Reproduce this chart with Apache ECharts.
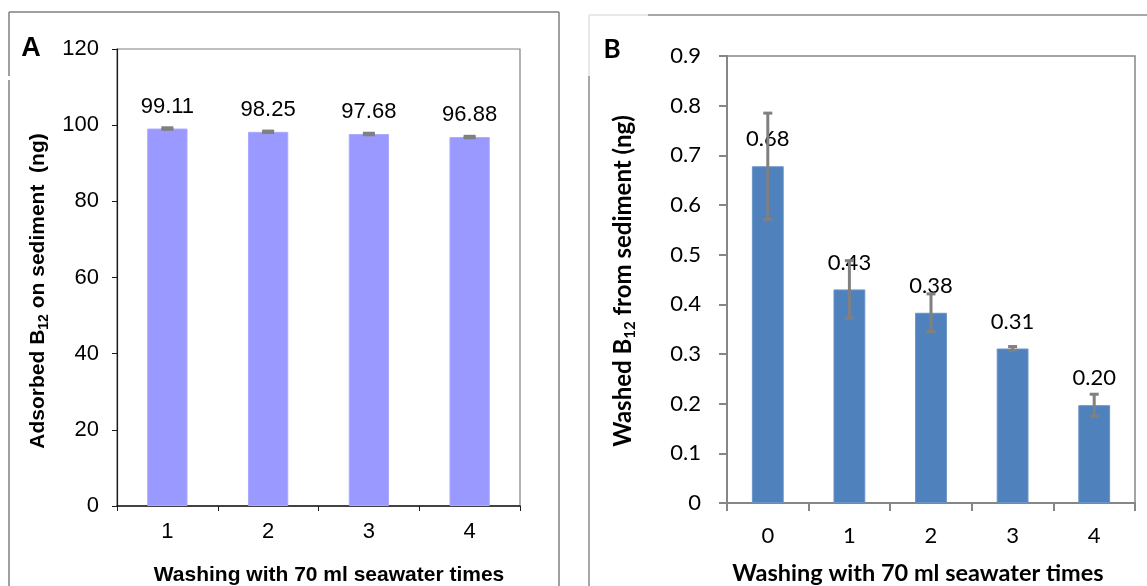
<!DOCTYPE html>
<html>
<head>
<meta charset="utf-8">
<script src="https://cdn.jsdelivr.net/npm/echarts@6/dist/echarts.min.js"></script>
<style>
html,body{margin:0;padding:0;background:#fff;}
#c{width:1147px;height:586px;}
</style>
</head>
<body>
<div id="c"></div>
<script>
// Panel A data
const catsA = ['1', '2', '3', '4'];
const meanA = [99.11, 98.25, 97.68, 96.88];
const errA = [0.2, 0.2, 0.2, 0.2];
const labelsA = ['99.11', '98.25', '97.68', '96.88'];
const yTicksA = { min: 0, max: 120, interval: 20 };

// Panel B data
const catsB = ['0', '1', '2', '3', '4'];
const meanB = [0.678, 0.430, 0.383, 0.311, 0.197];
const errB = [0.107, 0.058, 0.038, 0.004, 0.022];
const labelsB = ['0.68', '0.43', '0.38', '0.31', '0.20'];
const yTicksB = { min: 0, max: 0.9, interval: 0.1 };

const FA = 'Liberation Sans';
const FB = 'Lato';

function errItem(capW, capLw, stemLw) {
  return function (params, api) {
    const x = api.value(0), m = api.value(1), e = api.value(2);
    const t = api.coord([x, m + e]);
    const b = api.coord([x, m - e]);
    const hw = capW / 2;
    const st = { stroke: '#808080', lineWidth: stemLw };
    const ct = { stroke: '#808080', lineWidth: capLw };
    return {
      type: 'group',
      children: [
        { type: 'line', shape: { x1: t[0], y1: t[1], x2: b[0], y2: b[1] }, style: st },
        { type: 'line', shape: { x1: t[0] - hw, y1: t[1], x2: t[0] + hw, y2: t[1] }, style: ct },
        { type: 'line', shape: { x1: b[0] - hw, y1: b[1], x2: b[0] + hw, y2: b[1] }, style: ct }
      ]
    };
  };
}

const chart = echarts.init(document.getElementById('c'), null, { renderer: 'canvas' });

const option = {
  animation: false,
  backgroundColor: '#fff',
  grid: [
    { left: 117, top: 49, width: 403, height: 457, show: true, borderColor: '#808080', borderWidth: 1.2, containLabel: false },
    { left: 727, top: 56, width: 408, height: 447, show: true, borderColor: '#868686', borderWidth: 1.5, containLabel: false }
  ],
  xAxis: [
    {
      gridIndex: 0, type: 'category', data: catsA,
      axisLine: { lineStyle: { color: '#1a1a1a', width: 1.5 } },
      axisTick: { show: true, length: 5, lineStyle: { color: '#1a1a1a' } },
      axisLabel: { color: '#000', fontFamily: FA, fontSize: 22, margin: 15 },
      splitLine: { show: false }
    },
    {
      gridIndex: 1, type: 'category', data: catsB,
      axisLine: { lineStyle: { color: '#868686', width: 2 } },
      axisTick: { show: true, length: 8, lineStyle: { color: '#868686', width: 2 } },
      axisLabel: { color: '#000', fontFamily: FB, fontSize: 22, margin: 22 },
      splitLine: { show: false }
    }
  ],
  yAxis: [
    {
      gridIndex: 0, type: 'value', min: yTicksA.min, max: yTicksA.max, interval: yTicksA.interval,
      axisLine: { show: true, lineStyle: { color: '#1a1a1a', width: 1.2 } },
      axisTick: { show: true, length: 5, lineStyle: { color: '#1a1a1a' } },
      axisLabel: { color: '#000', fontFamily: FA, fontSize: 22, margin: 18 },
      splitLine: { show: false }
    },
    {
      gridIndex: 1, type: 'value', min: yTicksB.min, max: yTicksB.max, interval: yTicksB.interval,
      axisLine: { show: true, lineStyle: { color: '#868686', width: 2 } },
      axisTick: { show: true, length: 8, lineStyle: { color: '#868686', width: 2 } },
      axisLabel: {
        color: '#000', fontFamily: FB, fontSize: 22, margin: 26,
        formatter: function (v) { return v === 0 ? '0' : v.toFixed(1); }
      },
      splitLine: { show: false }
    }
  ],
  series: [
    {
      type: 'bar', xAxisIndex: 0, yAxisIndex: 0, data: meanA, barWidth: '40%', z: 2,
      itemStyle: { color: '#9999FF', borderColor: '#aaaaff', borderWidth: 1 },
      label: {
        show: true, position: 'top', distance: 11, color: '#000', fontFamily: FA, fontSize: 22,
        formatter: function (p) { return labelsA[p.dataIndex]; }
      }
    },
    {
      type: 'custom', xAxisIndex: 0, yAxisIndex: 0, z: 5,
      renderItem: errItem(12, 3, 3),
      data: catsA.map(function (c, i) { return [i, meanA[i], errA[i]]; })
    },
    {
      type: 'bar', xAxisIndex: 1, yAxisIndex: 1, data: meanB, barWidth: '39%', z: 2,
      itemStyle: { color: '#4F81BD', borderColor: '#6a93c6', borderWidth: 1 },
      label: {
        show: true, position: 'top', distance: 16, color: '#000', fontFamily: FB, fontSize: 22,
        formatter: function (p) { return labelsB[p.dataIndex]; }
      }
    },
    {
      type: 'custom', xAxisIndex: 1, yAxisIndex: 1, z: 5,
      renderItem: errItem(9, 3, 3),
      data: catsB.map(function (c, i) { return [i, meanB[i], errB[i]]; })
    }
  ],
  graphic: [
    // panel A frame
    { type: 'line', shape: { x1: 9, y1: 12, x2: 559, y2: 12 }, style: { stroke: '#7f7f7f', lineWidth: 1.5 }, silent: true },
    { type: 'line', shape: { x1: 9, y1: 12, x2: 9, y2: 76 }, style: { stroke: '#7f7f7f', lineWidth: 1.5 }, silent: true },
    { type: 'line', shape: { x1: 9, y1: 80, x2: 9, y2: 586 }, style: { stroke: '#7f7f7f', lineWidth: 1.5 }, silent: true },
    { type: 'line', shape: { x1: 559, y1: 12, x2: 559, y2: 586 }, style: { stroke: '#7f7f7f', lineWidth: 1.5 }, silent: true },
    // panel B frame
    { type: 'line', shape: { x1: 589, y1: 15, x2: 648, y2: 15 }, style: { stroke: '#e0e0e0', lineWidth: 1.5 }, silent: true },
    { type: 'line', shape: { x1: 648, y1: 15, x2: 1147, y2: 15 }, style: { stroke: '#8a8a8a', lineWidth: 1.5 }, silent: true },
    { type: 'line', shape: { x1: 589, y1: 15, x2: 589, y2: 76 }, style: { stroke: '#e0e0e0', lineWidth: 1.5 }, silent: true },
    { type: 'line', shape: { x1: 589, y1: 76, x2: 589, y2: 586 }, style: { stroke: '#8a8a8a', lineWidth: 1.5 }, silent: true },
    // panel letters
    { type: 'text', x: 31, y: 49, style: { text: 'A', fontFamily: FA, fontWeight: 'bold', fontSize: 27, fill: '#000', textAlign: 'center', textVerticalAlign: 'middle' } },
    { type: 'text', x: 612, y: 50, style: { text: 'B', fontFamily: FB, fontWeight: 'bold', fontSize: 26, fill: '#000', textAlign: 'center', textVerticalAlign: 'middle' } },
    // x axis titles
    { type: 'text', x: 329, y: 575, style: { text: 'Washing with 70 ml seawater times', fontFamily: FA, fontWeight: 'bold', fontSize: 21, fill: '#000', textAlign: 'center', textVerticalAlign: 'middle' } },
    { type: 'text', x: 918, y: 573, style: { text: 'Washing with 70 ml seawater times', fontFamily: FB, fontWeight: 'bold', fontSize: 23.5, fill: '#000', textAlign: 'center', textVerticalAlign: 'middle' } },
    // y axis titles (rotated)
    {
      type: 'text', x: 38, y: 291, rotation: Math.PI / 2,
      style: {
        text: '{m|Adsorbed B}{s|12}{m| on sediment  (ng)}',
        textAlign: 'center', textVerticalAlign: 'middle',
        rich: {
          m: { fontFamily: FA, fontWeight: 'bold', fontSize: 21, fill: '#000', lineHeight: 27, verticalAlign: 'middle' },
          s: { fontFamily: FA, fontWeight: 'bold', fontSize: 14, fill: '#000', lineHeight: 14, verticalAlign: 'bottom' }
        }
      }
    },
    {
      type: 'text', x: 623, y: 281, rotation: Math.PI / 2,
      style: {
        text: '{m|Washed B}{s|12}{m| from sediment (ng)}',
        textAlign: 'center', textVerticalAlign: 'middle',
        rich: {
          m: { fontFamily: FB, fontWeight: 'bold', fontSize: 24, fill: '#000', lineHeight: 30, verticalAlign: 'middle' },
          s: { fontFamily: FB, fontWeight: 'bold', fontSize: 15, fill: '#000', lineHeight: 15, verticalAlign: 'bottom' }
        }
      }
    }
  ]
};

chart.setOption(option);
</script>
</body>
</html>
